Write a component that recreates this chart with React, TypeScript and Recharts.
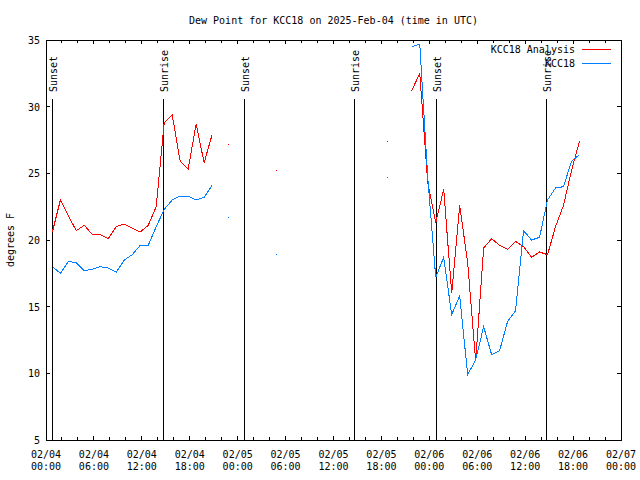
import React from "react"
import { LineChart, Line, XAxis, YAxis, ReferenceLine, ReferenceArea } from "recharts"

// hourly observations, first one at 00:48 UTC on 02/04 (hours after 02/04 00:00)
const firstObsHour = 0.8

// dew point, degrees F (null = missing)
const analysis = [
  20.6, 23.0, 21.8, 20.7, 21.1, 20.4, 20.4, 20.1, 21.0, 21.2,
  20.9, 20.6, 21.1, 22.5, 28.8, 29.4, 25.9, 25.3, 28.7, 25.8,
  27.9, null, 27.2, null, null, null, null, null, 25.2, null,
  null, null, null, null, null, null, null, null, null, null,
  null, null, 27.4, null, null, 31.2, 32.5, 24.3, 21.3, 23.8,
  16.0, 22.6, 18.3, 10.9, 19.4, 20.1, 19.6, 19.3, 19.9, 19.5,
  18.7, 19.1, 18.9, 21.0, 22.6, 25.2, 27.4,
]
const station = [
  18.0, 17.5, 18.4, 18.3, 17.7, 17.8, 18.0, 17.9, 17.6, 18.5,
  18.9, 19.6, 19.6, 21.0, 22.3, 23.0, 23.3, 23.3, 23.0, 23.2,
  24.1, null, 21.7, null, null, null, null, null, 18.9, null,
  null, null, null, null, null, null, null, null, null, null,
  null, null, 24.7, null, null, 34.5, 34.7, 24.7, 17.2, 18.7,
  14.4, 15.8, 9.9, 11.0, 13.5, 11.4, 11.7, 13.9, 14.7, 20.7,
  20.0, 20.2, 23.0, 23.9, 24.0, 25.9, 26.4,
]

const seriesNames = ["KCC18 Analysis", "KCC18"]
const seriesColors = ["#ff0000", "#0080ff"]

const sunEvents = [
  { label: "Sunset", hour: 0.8 },
  { label: "Sunrise", hour: 14.68 },
  { label: "Sunset", hour: 24.82 },
  { label: "Sunrise", hour: 38.67 },
  { label: "Sunset", hour: 48.84 },
  { label: "Sunrise", hour: 62.63 },
]

const xTicks = [
  0, 2, 4, 6, 8, 10, 12, 14, 16, 18, 20, 22, 24, 26, 28, 30, 32, 34, 36,
  38, 40, 42, 44, 46, 48, 50, 52, 54, 56, 58, 60, 62, 64, 66, 68, 70, 72,
]
const dayLabels = ["02/04", "02/05", "02/06", "02/07"]
const timeLabels = ["00:00", "06:00", "12:00", "18:00"]
const yTicks = [5, 10, 15, 20, 25, 30, 35]

const data = analysis.map((v, i) => ({
  hour: firstObsHour + i,
  analysis: v,
  station: station[i],
}))

const W = 640
const H = 480
const TOP = 40
const BOTTOM = 440
const LEFT = 46
const RIGHT = 621
const FONT = "DejaVu Sans Mono"

function XTick(props: any) {
  const { x, payload } = props
  const h = payload.value
  const major = h % 6 === 0
  const len = major ? 4 : 3
  return (
    <g>
      <line x1={x} y1={BOTTOM} x2={x} y2={BOTTOM - len} stroke="#000" shapeRendering="crispEdges" />
      <line x1={x} y1={TOP} x2={x} y2={TOP + len} stroke="#000" shapeRendering="crispEdges" />
      {major && (
        <text x={x} y={458} textAnchor="middle" fontFamily={FONT} fontSize={10} fill="#000">
          <tspan x={x}>{dayLabels[Math.floor(h / 24)]}</tspan>
          <tspan x={x} dy={12}>{timeLabels[(h % 24) / 6]}</tspan>
        </text>
      )}
    </g>
  )
}

function YTick(props: any) {
  const { y, payload } = props
  return (
    <g>
      <line x1={LEFT} y1={y} x2={LEFT + 4} y2={y} stroke="#000" shapeRendering="crispEdges" />
      <line x1={RIGHT} y1={y} x2={RIGHT - 4} y2={y} stroke="#000" shapeRendering="crispEdges" />
      <text x={40} y={y + 4} textAnchor="end" fontFamily={FONT} fontSize={10} fill="#000">
        {payload.value}
      </text>
    </g>
  )
}

// single observations between gaps only show as a dot
const lonelyDot = (values: (number | null)[], color: string) => (props: any) => {
  const { cx, cy, index } = props
  const v = values[index]
  if (v == null || values[index - 1] != null || values[index + 1] != null) return null
  return (
    <rect key={`dot-${index}`} x={Math.floor(cx)} y={Math.floor(cy)} width={1} height={1} fill={color} />
  )
}

const sunShape = (label: string) => (props: any) => {
  const x = props.x1
  const top = Math.min(props.y1, props.y2)
  const bottom = Math.max(props.y1, props.y2)
  const tx = x + 4.5
  const ty = top + 52
  return (
    <g>
      <line x1={x} y1={top + 59} x2={x} y2={bottom} stroke="#000" shapeRendering="crispEdges" />
      <text x={tx} y={ty} transform={`rotate(-90 ${tx} ${ty})`} fontFamily={FONT} fontSize={10} fill="#000">
        {label}
      </text>
    </g>
  )
}

export default function App() {
  return (
    <div style={{ position: "absolute", left: 0, top: 0, background: "#fff" }}>
      <LineChart
        width={W}
        height={H}
        data={data}
        margin={{ top: TOP, right: W - RIGHT, bottom: 0, left: 0 }}
      >
        <XAxis
          dataKey="hour"
          type="number"
          domain={[0, 72]}
          ticks={xTicks}
          interval={0}
          height={H - BOTTOM}
          axisLine={false}
          tickLine={false}
          tick={XTick}
          allowDataOverflow
        />
        <YAxis
          type="number"
          domain={[5, 35]}
          ticks={yTicks}
          interval={0}
          width={LEFT}
          axisLine={false}
          tickLine={false}
          tick={YTick}
          allowDataOverflow
        />
        <ReferenceArea
          x1={0}
          x2={72}
          y1={5}
          y2={35}
          fill="none"
          stroke="#000"
          strokeWidth={1}
          shapeRendering="crispEdges"
          ifOverflow="visible"
        />
        {sunEvents.map((e, i) => (
          <ReferenceLine key={i} x={e.hour} shape={sunShape(e.label)} ifOverflow="visible" />
        ))}
        <Line
          dataKey="analysis"
          stroke={seriesColors[0]}
          strokeWidth={1}
          shapeRendering="crispEdges"
          dot={lonelyDot(analysis, seriesColors[0])}
          activeDot={false}
          isAnimationActive={false}
        />
        <Line
          dataKey="station"
          stroke={seriesColors[1]}
          strokeWidth={1}
          shapeRendering="crispEdges"
          dot={lonelyDot(station, seriesColors[1])}
          activeDot={false}
          isAnimationActive={false}
        />
        <text x={(LEFT + RIGHT) / 2} y={24} textAnchor="middle" fontFamily={FONT} fontSize={10} fill="#000">
          Dew Point for KCC18 on 2025-Feb-04 (time in UTC)
        </text>
        <text x={14} y={(TOP + BOTTOM) / 2} transform={`rotate(-90 14 ${(TOP + BOTTOM) / 2})`} textAnchor="middle" fontFamily={FONT} fontSize={10} fill="#000">
          degrees F
        </text>
        <g className="legend">
          {seriesNames.map((name, i) => (
            <g key={name}>
              <text x={575} y={53 + i * 13.5} textAnchor="end" fontFamily={FONT} fontSize={10} fill="#000">
                {name}
              </text>
              <rect x={582} y={49 + i * 14} width={29} height={1} fill={seriesColors[i]} />
            </g>
          ))}
        </g>
      </LineChart>
    </div>
  )
}
